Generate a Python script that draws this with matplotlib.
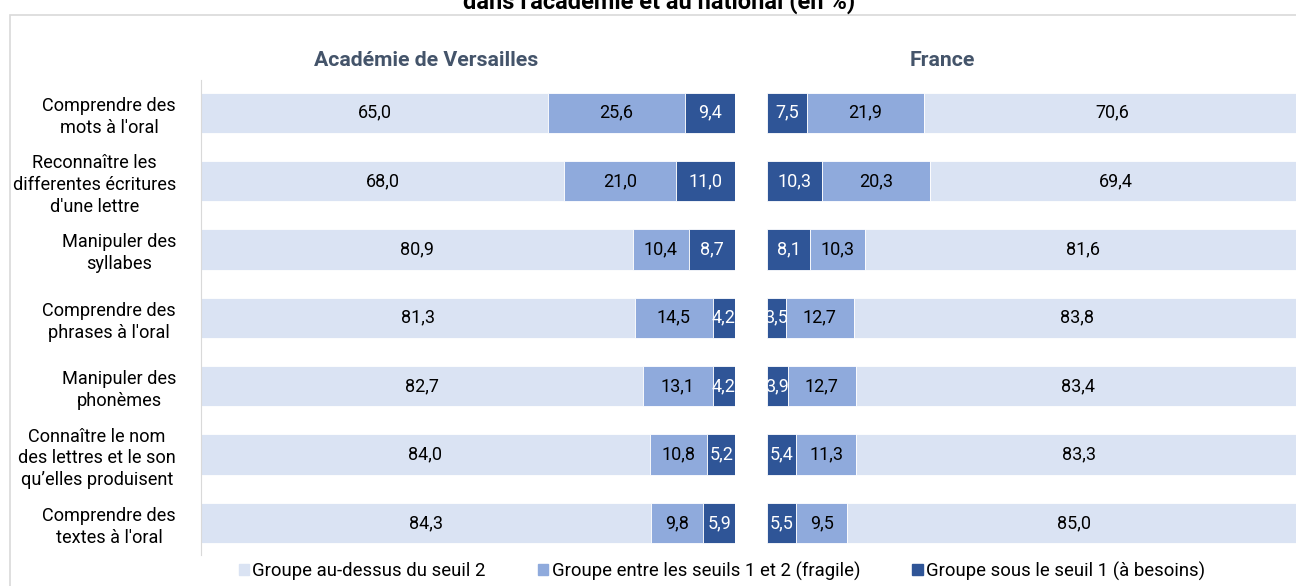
import matplotlib.pyplot as plt
from matplotlib.patches import Rectangle, Patch

plt.rcParams['font.family'] = ['Roboto', 'DejaVu Sans']

categories = ["Comprendre des\nmots à l'oral",
              "Reconnaître les\ndifferentes écritures\nd'une lettre",
              "Manipuler des\nsyllabes",
              "Comprendre des\nphrases à l'oral",
              "Manipuler des\nphonèmes",
              "Connaître le nom\ndes lettres et le son\nqu’elles produisent",
              "Comprendre des\ntextes à l'oral"]

# Académie de Versailles
acad_haut = [65.0, 68.0, 80.9, 81.3, 82.7, 84.0, 84.3]
acad_fragile = [25.6, 21.0, 10.4, 14.5, 13.1, 10.8, 9.8]
acad_besoins = [9.4, 11.0, 8.7, 4.2, 4.2, 5.2, 5.9]

# France
fr_besoins = [7.5, 10.3, 8.1, 3.5, 3.9, 5.4, 5.5]
fr_fragile = [21.9, 20.3, 10.3, 12.7, 12.7, 11.3, 9.5]
fr_haut = [70.6, 69.4, 81.6, 83.8, 83.4, 83.3, 85.0]

legend_labels = ["Groupe au-dessus du seuil 2",
                 "Groupe entre les seuils 1 et 2 (fragile)",
                 "Groupe sous le seuil 1 (à besoins)"]

c_clair = "#DAE3F3"
c_moyen = "#8FAADC"
c_fonce = "#2F5597"
W, H = 1296, 586

fig = plt.figure(figsize=(W / 100, H / 100), dpi=100)

# cadre
fig.patches.append(Rectangle((10 / W, -0.1), 1.2, 1 - 15 / H + 0.1, transform=fig.transFigure,
                             fill=False, edgecolor="#D9D9D9", linewidth=1.2))

# titre (coupé en haut comme sur l'original)
fig.text(659 / W, 1 - 9 / H, "dans l'académie et au national (en %)", ha="center",
         va="baseline", fontsize=17, fontweight="bold")

y = list(range(len(categories)))


def fmt(v):
    return f"{v:.1f}".replace(".", ",")


def empiler(ax, series, couleurs, txt_couleurs):
    gauche = [0] * len(y)
    for vals, col, tc in zip(series, couleurs, txt_couleurs):
        bars = ax.barh(y, vals, left=gauche, height=0.59, color=col, edgecolor="white", linewidth=0.6)
        for b, v in zip(bars, vals):
            ax.text(b.get_x() + b.get_width() / 2, b.get_y() + b.get_height() / 2, fmt(v),
                    ha="center", va="center", fontsize=13, color=tc)
        gauche = [g + v for g, v in zip(gauche, vals)]
    ax.set_xlim(0, 100)
    ax.set_ylim(6.47, -0.48)
    ax.set_xticks([])
    for s in ["top", "right", "bottom", "left"]:
        ax.spines[s].set_visible(False)


bas = 1 - 555 / H
haut = 1 - 80 / H

ax1 = fig.add_axes([201 / W, bas, 534 / W, haut - bas])
empiler(ax1, [acad_haut, acad_fragile, acad_besoins], [c_clair, c_moyen, c_fonce],
        ["black", "black", "white"])
ax1.spines["left"].set_visible(True)
ax1.spines["left"].set_color("#D9D9D9")
ax1.set_yticks(y)
ax1.set_yticklabels(categories, fontsize=13.1, multialignment="center", linespacing=1.27)
ax1.tick_params(axis="y", length=0, pad=18)

ax2 = fig.add_axes([767 / W, bas, 534 / W, haut - bas])
empiler(ax2, [fr_besoins, fr_fragile, fr_haut], [c_fonce, c_moyen, c_clair],
        ["white", "black", "black"])
ax2.set_yticks([])

fig.text(426 / W, 1 - 60 / H, "Académie de Versailles", ha="center", va="center",
         fontsize=15.3, fontweight="bold", color="#44546A")
fig.text(942 / W, 1 - 60 / H, "France", ha="center", va="center",
         fontsize=15.3, fontweight="bold", color="#44546A")

handles = [Patch(color=c) for c in [c_clair, c_moyen, c_fonce]]
fig.legend(handles, legend_labels, loc="center", bbox_to_anchor=(722 / W, 1 - 571 / H), ncol=3,
           frameon=False, fontsize=13.3, handlelength=0.55, handleheight=0.55, handletextpad=0.2,
           columnspacing=2.82)

fig.savefig("out.png", dpi=100)
